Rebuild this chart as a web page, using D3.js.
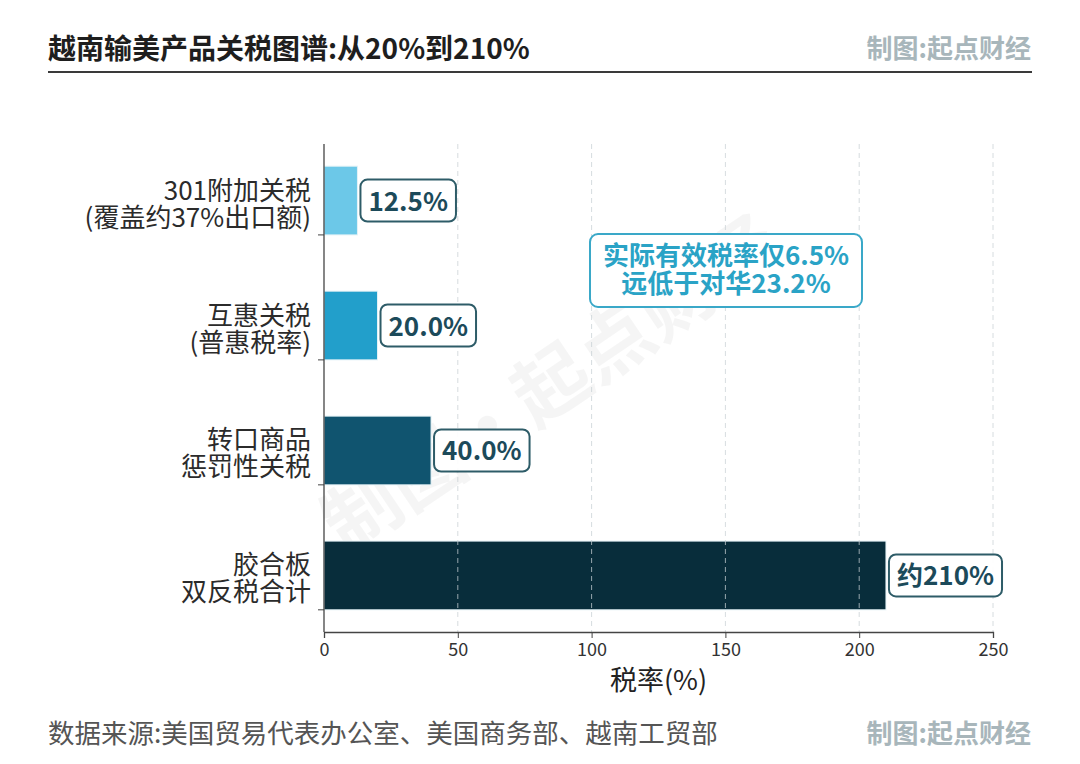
<!DOCTYPE html>
<html>
<head>
<meta charset="utf-8">
<script src="https://cdn.jsdelivr.net/npm/d3@7/dist/d3.min.js"></script>
<style>
  body { margin: 0; background: #fff; }
  svg text { font-family: "Noto Sans CJK SC", "Noto Sans", sans-serif; }
</style>
</head>
<body>
<svg id="chart" width="1080" height="764"></svg>
<script>
// data
var categories = [
  ["301附加关税", "(覆盖约37%出口额)"],
  ["互惠关税", "(普惠税率)"],
  ["转口商品", "惩罚性关税"],
  ["胶合板", "双反税合计"]
];
var rates = [12.5, 20.0, 40.0, 210];
var valueLabels = ["12.5%", "20.0%", "40.0%", "约210%"];
var barColors = ["#6cc8e8", "#229fcb", "#10546f", "#082d3b"];
var xTicks = [0, 50, 100, 150, 200, 250];
var noteLines = ["实际有效税率仅6.5%", "远低于对华23.2%"];

var svg = d3.select("#chart");

var margin = {left: 324, right: 87, top: 144, bottom: 132};
var W = 1080, H = 764;

var x = d3.scaleLinear().domain([0, 250]).range([margin.left, W - margin.right]);
var y = d3.scaleBand()
  .domain(d3.range(categories.length))
  .range([margin.top, H - margin.bottom])
  .paddingInner(0.45)
  .paddingOuter(0.1775);

// title + header
svg.append("text").attr("x", 48).attr("y", 59)
  .attr("font-size", 28).attr("font-weight", 700).attr("fill", "#1e1e1e")
  .text("越南输美产品关税图谱:从20%到210%");
svg.append("text").attr("x", 1031).attr("y", 58).attr("text-anchor", "end")
  .attr("font-size", 26).attr("font-weight", 700).attr("fill", "#a8b6bb")
  .text("制图:起点财经");
svg.append("line").attr("x1", 48).attr("x2", 1032).attr("y1", 72).attr("y2", 72)
  .attr("stroke", "#3a3a3a").attr("stroke-width", 2);

// watermark
svg.append("text")
  .attr("transform", "translate(555,390) rotate(-34)")
  .attr("text-anchor", "middle").attr("dominant-baseline", "middle")
  .attr("font-size", 76).attr("font-weight", 700)
  .attr("fill", "#000").attr("fill-opacity", 0.04)
  .text("制图·起点财经");

// bars
svg.selectAll("rect.bar").data(rates).enter().append("rect")
  .attr("class", "bar")
  .attr("x", x(0))
  .attr("y", function(d, i){ return y(i); })
  .attr("width", function(d){ return x(d) - x(0); })
  .attr("height", y.bandwidth())
  .attr("fill", function(d, i){ return barColors[i]; })
  .attr("stroke", "#e4f2f6").attr("stroke-width", 1);

// dashed grid, drawn over the bars
svg.append("g").selectAll("line").data(xTicks.slice(1)).enter().append("line")
  .attr("x1", function(d){ return x(d); }).attr("x2", function(d){ return x(d); })
  .attr("y1", margin.top).attr("y2", H - margin.bottom)
  .attr("stroke", "#c8d0d4").attr("stroke-opacity", 0.75)
  .attr("stroke-dasharray", "5,4").attr("stroke-width", 1);

// axes
var xAxis = d3.axisBottom(x).tickValues(xTicks).tickSize(6).tickPadding(5);
var gx = svg.append("g").attr("transform", "translate(0," + (H - margin.bottom) + ")").call(xAxis);
gx.select(".domain").attr("stroke", "#444").attr("stroke-width", 1.3);
gx.selectAll(".tick line").attr("stroke", "#444");
gx.selectAll(".tick text").attr("font-size", 18).attr("fill", "#333")
  .style("font-family", "'Noto Sans CJK SC', sans-serif");

var yAxis = d3.axisLeft(y).tickSize(6).tickFormat("");
var gy = svg.append("g").attr("transform", "translate(" + margin.left + ",0)").call(yAxis);
gy.select(".domain").attr("stroke", "#444").attr("stroke-width", 1.3).attr("d", "M0," + margin.top + "V" + (H - margin.bottom));
gy.selectAll(".tick line").attr("stroke", "#444").attr("transform", "translate(0," + (y.bandwidth() / 2) + ")");

// category labels
categories.forEach(function(lines, i){
  var cy = y(i) + y.bandwidth() / 2;
  lines.forEach(function(s, k){
    svg.append("text").attr("text-anchor", "end").attr("font-size", 26).attr("fill", "#2b2b2b")
      .attr("x", 311).attr("y", cy + (k === 0 ? -1 : 26)).text(s);
  });
});

svg.append("text").attr("x", x(125)).attr("y", 690).attr("text-anchor", "middle")
  .attr("font-size", 27).attr("fill", "#222").text("税率(%)");

// value labels in rounded boxes
rates.forEach(function(d, i){
  var cy = y(i) + y.bandwidth() / 2;
  var g = svg.append("g");
  var t = g.append("text").attr("x", x(d) + 11).attr("y", cy + 10)
    .attr("font-size", 26).attr("font-weight", 700).attr("fill", "#1c4a5a")
    .text(valueLabels[i]);
  var w = t.node().getComputedTextLength();
  g.insert("rect", "text")
    .attr("x", x(d) + 3).attr("y", cy - 21)
    .attr("width", w + 16).attr("height", 42)
    .attr("rx", 7).attr("fill", "#fff").attr("fill-opacity", 0.92)
    .attr("stroke", "#2e5c68").attr("stroke-width", 2);
});

// note box
var note = svg.append("g");
note.append("rect").attr("x", 590).attr("y", 234).attr("width", 272).attr("height", 73)
  .attr("rx", 8).attr("fill", "#fff").attr("stroke", "#3aa8c8").attr("stroke-width", 2);
noteLines.forEach(function(s, k){
  note.append("text").attr("x", 726).attr("y", 265 + k * 28).attr("text-anchor", "middle")
    .attr("font-size", 26).attr("font-weight", 700).attr("fill", "#2aa3c6").text(s);
});

// footer
svg.append("text").attr("x", 48).attr("y", 743)
  .attr("font-size", 26.5).attr("fill", "#555").text("数据来源:美国贸易代表办公室、美国商务部、越南工贸部");
svg.append("text").attr("x", 1031).attr("y", 743).attr("text-anchor", "end")
  .attr("font-size", 26).attr("font-weight", 700).attr("fill", "#a8b6bb")
  .text("制图:起点财经");
</script>
</body>
</html>
